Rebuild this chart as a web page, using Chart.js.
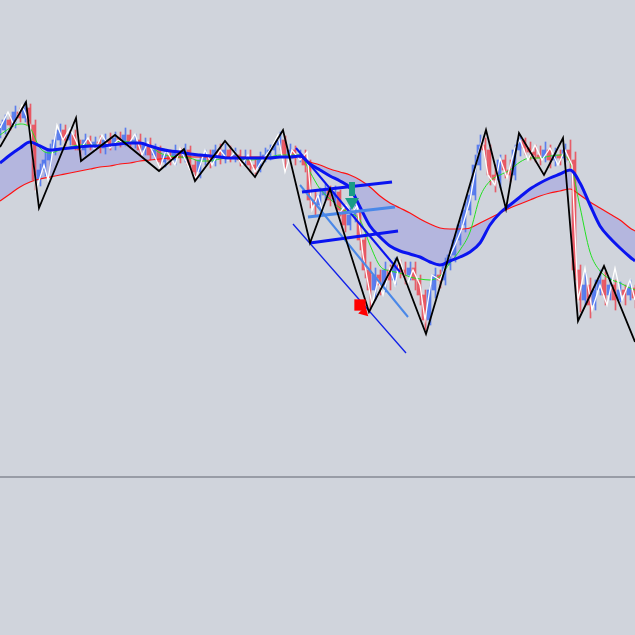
<!DOCTYPE html>
<html>
<head>
<meta charset="utf-8">
<script src="https://cdn.jsdelivr.net/npm/chart.js@4.4.1/dist/chart.umd.min.js"></script>
<style>
  html, body { margin: 0; padding: 0; background: #d0d4dc; }
  #wrap { width: 635px; height: 635px; }
</style>
</head>
<body>
<div id="wrap"><canvas id="chart" width="635" height="635"></canvas></div>
<script>
// price levels are in chart units (axis runs top = 0 .. bottom = 635)
const maX = Array.from({ length: 64 }, (_, i) => i * 10).concat(635);

const blueMA = [
  163, 155, 148, 142, 146, 150, 149, 148, 147, 146,
  146, 145, 144, 143, 143, 146, 149, 151, 152, 154,
  155, 156, 157, 158, 158, 158, 158, 158, 157, 157,
  156, 164, 170, 176, 181, 188, 207, 226, 237, 246,
  251, 254, 257, 262, 265, 261, 257, 252, 243, 225,
  213, 205, 197, 189, 183, 178, 174, 170, 183, 205,
  226, 238, 248, 257,
  261
];

const redMA = [
  201, 194, 187, 182, 179, 177, 175, 173, 171, 169,
  167, 166, 164, 163, 161, 160, 159, 158, 157, 157,
  157, 157, 157, 157, 157, 157, 157, 157, 157, 157,
  158, 162, 165, 169, 172, 175, 180, 187, 196, 203,
  208, 213, 219, 224, 228, 229, 229, 228, 223, 218,
  213, 208, 204, 200, 196, 193, 191, 189, 195, 202,
  208, 214, 220, 228,
  231
];

const greenMA = [
  135, 128, 124, 128, 148, 153, 150, 147, 145, 145,
  145, 145, 141, 142, 143, 146, 153, 156, 157, 158,
  161, 161, 159, 158, 159, 160, 159, 157, 155, 155,
  155, 172, 189, 199, 208, 213, 220, 245, 266, 271,
  273, 277, 279, 280, 276, 263, 250, 232, 197, 181,
  175, 170, 162, 158, 158, 156, 155, 162, 207, 252,
  271, 279, 283, 288,
  290
];

// candles, one every 5 units of x
const closeX = Array.from({ length: 128 }, (_, i) => i * 5);
const closes = [
  130, 120, 125, 112, 118, 108, 125, 180, 170, 160,
  150, 140, 130, 140, 135, 145, 150, 140, 145, 142,
  148, 140, 145, 138, 142, 135, 142, 140, 150, 143,
  155, 150, 162, 155, 160, 152, 158, 150, 165, 172,
  160, 155, 162, 150, 158, 150, 157, 155, 160, 158,
  165, 168, 158, 155, 150, 145, 140, 155, 150, 158,
  155, 165, 200, 205, 195, 190, 200, 192, 210, 225,
  215, 212, 240, 270, 290, 275, 285, 270, 280, 265,
  270, 275, 268, 280, 295, 320, 290, 275, 280, 265,
  255, 240, 225, 210, 195, 165, 145, 150, 175, 180,
  160, 170, 175, 150, 140, 148, 152, 155, 158, 150,
  160, 155, 158, 150, 160, 270, 300, 285, 305, 290,
  280, 295, 285, 300, 290, 295, 288, 298
];
const highs = [
  124, 115, 116, 106, 108, 102, 104, 120, 164, 152,
  144, 134, 124, 125, 128, 130, 140, 134, 136, 137,
  136, 134, 133, 132, 132, 128, 130, 134, 134, 138,
  138, 144, 146, 150, 150, 145, 148, 144, 146, 160,
  155, 150, 150, 145, 144, 144, 146, 148, 150, 150,
  150, 160, 152, 148, 145, 140, 132, 136, 144, 146,
  150, 150, 160, 190, 188, 184, 186, 186, 190, 205,
  208, 205, 208, 235, 262, 268, 270, 262, 265, 258,
  260, 262, 262, 262, 275, 290, 285, 268, 270, 258,
  250, 235, 220, 202, 185, 155, 135, 138, 145, 165,
  155, 155, 160, 145, 136, 138, 142, 145, 146, 142,
  145, 148, 150, 144, 140, 152, 265, 272, 278, 280,
  270, 272, 278, 280, 282, 285, 280, 285
];
const lows = [
  138, 134, 130, 128, 122, 122, 130, 190, 186, 176,
  166, 155, 145, 146, 145, 150, 156, 155, 150, 150,
  153, 154, 150, 150, 147, 146, 148, 148, 156, 155,
  160, 160, 168, 167, 165, 165, 163, 162, 170, 180,
  178, 165, 168, 166, 164, 163, 162, 162, 166, 165,
  172, 174, 172, 162, 160, 155, 150, 170, 160, 165,
  162, 172, 208, 215, 210, 200, 206, 205, 216, 232,
  230, 222, 250, 278, 310, 300, 295, 292, 290, 285,
  278, 284, 280, 290, 305, 330, 325, 298, 288, 285,
  270, 262, 245, 232, 215, 200, 170, 160, 185, 192,
  188, 178, 182, 180, 156, 155, 160, 162, 165, 162,
  168, 166, 165, 162, 168, 280, 312, 305, 318, 310,
  295, 305, 300, 310, 302, 305, 300, 308
];

// big zigzag (black)
const zigX = [0, 26, 39, 76, 81, 115, 159, 184, 195, 225, 255, 283, 310, 330, 369, 397, 426, 486, 506, 519, 544, 563, 578, 604, 635];
const zigY = [147, 102, 208, 118, 161, 135, 171, 149, 181, 141, 177, 130, 243, 189, 312, 258, 334, 130, 209, 133, 175, 138, 321, 266, 342];

// small zigzag (white)
const wzX = [0, 8, 14, 22, 30, 36, 44, 48, 57, 63, 70, 80, 88, 95, 102, 110, 118, 128, 135, 142, 148, 160, 166, 175, 180, 190, 196, 205, 212, 220, 228, 235, 242, 248, 255, 262, 270, 278, 285, 292, 300, 307,
  312, 318, 322, 330, 338, 346, 352, 357, 363, 372, 378, 383, 390, 395, 400, 407, 413, 420, 425, 432, 440, 447, 455, 462, 470, 478, 482, 488, 495, 500, 507, 515, 520, 528, 535, 542, 550, 558, 565, 572,
  578, 585, 592, 600, 607, 615, 622, 630, 635];
const wzY = [128, 112, 125, 105, 125, 190, 165, 180, 125, 140, 128, 150, 138, 150, 135, 148, 140, 145, 134, 155, 142, 168, 150, 165, 148, 170, 178, 150, 165, 150, 160, 152, 165, 155, 172, 160, 150, 135, 172, 150, 160, 152,
  210, 195, 210, 190, 215, 205, 215, 205, 255, 305, 280, 295, 268, 285, 260, 285, 270, 285, 320, 275, 280, 262, 245, 228, 200, 155, 140, 175, 185, 158, 178, 148, 140, 160, 145, 160, 148, 165, 150, 165,
  300, 268, 310, 285, 305, 268, 300, 280, 300];

// trend lines: [x1, y1, x2, y2]
const channelTop = [302, 192, 392, 182];
const channelMid = [308, 217, 395, 207];
const channelLow = [310, 243, 398, 231];
const diagLight = [300, 185, 408, 317];
const diagLow = [293, 224, 406, 353];
const diagHigh = [296, 148, 400, 272];

const downArrow = [352, 182, 352, 196, 352, 202];
const buyArrow = [360, 305, 364, 312];
const baseLevel = 477;

const toPts = (xs, ys) => xs.map((x, i) => ({ x: x, y: ys[i] }));
const seg = s => [{ x: s[0], y: s[1] }, { x: s[2], y: s[3] }];

const opens = closes.map((c, i) => i === 0 ? closes[0] + 4 : closes[i - 1]);
const bodies = closeX.map((x, i) => ({ x: x, y: [opens[i], closes[i]] }));
const wicks = closeX.map((x, i) => ({ x: x, y: [highs[i], lows[i]] }));
const candleColors = closes.map((c, i) => c > opens[i] ? 'rgba(235,72,85,0.85)' : 'rgba(72,112,240,0.85)');

const lineDs = (data, color, width, order, extra) => Object.assign({
  type: 'line',
  data: data,
  borderColor: color,
  borderWidth: width,
  pointRadius: 0,
  tension: 0,
  fill: false,
  order: order
}, extra || {});

const datasets = [
  lineDs([{ x: 0, y: baseLevel }, { x: 635, y: baseLevel }], '#868a94', 1.5, 1),
  lineDs(toPts(maX, redMA), '#ff1010', 1.2, 9, { cubicInterpolationMode: 'monotone' }),
  lineDs(toPts(maX, blueMA), '#0a14f0', 3, 6, {
    cubicInterpolationMode: 'monotone',
    fill: { target: 1 },
    backgroundColor: 'rgba(140,140,225,0.42)'
  }),
  lineDs(toPts(maX, greenMA), '#22e022', 1, 8, { cubicInterpolationMode: 'monotone' }),
  {
    type: 'bar',
    data: bodies,
    backgroundColor: candleColors,
    barThickness: 3,
    borderWidth: 0,
    order: 10
  },
  {
    type: 'bar',
    data: wicks,
    backgroundColor: candleColors,
    barThickness: 1,
    borderWidth: 0,
    order: 11
  },
  lineDs(toPts(wzX, wzY), '#ffffff', 1.3, 7),
  lineDs(seg(channelTop), '#0a14f0', 3, 5),
  lineDs(seg(channelMid), '#4a88e8', 3, 5),
  lineDs(seg(channelLow), '#0a14f0', 3, 5),
  lineDs(seg(diagLight), '#4a88e8', 2, 5),
  lineDs(seg(diagLow), '#1020e8', 1.3, 5),
  lineDs(seg(diagHigh), '#0a14f0', 2, 5),
  lineDs(toPts(zigX, zigY), '#000000', 1.8, 4),
  lineDs([{ x: downArrow[0], y: downArrow[1] }, { x: downArrow[2], y: downArrow[3] }], '#1a9c86', 6, 2, { borderCapStyle: 'butt' }),
  lineDs([{ x: downArrow[4], y: downArrow[5] }], '#1a9c86', 0, 2, {
    showLine: false, pointRadius: 8, pointStyle: 'triangle', rotation: 180,
    pointBackgroundColor: '#1a9c86', pointBorderWidth: 0
  }),
  lineDs([{ x: buyArrow[0], y: buyArrow[1] }], '#ff0000', 0, 2, {
    showLine: false, pointRadius: 8, pointStyle: 'rect',
    pointBackgroundColor: '#ff0000', pointBorderWidth: 0
  }),
  lineDs([{ x: buyArrow[2], y: buyArrow[3] }], '#ff0000', 0, 2, {
    showLine: false, pointRadius: 6, pointStyle: 'triangle', rotation: 135,
    pointBackgroundColor: '#ff0000', pointBorderWidth: 0
  })
];

new Chart(document.getElementById('chart'), {
  type: 'line',
  data: { datasets: datasets },
  options: {
    responsive: false,
    animation: false,
    events: [],
    layout: { padding: 0, autoPadding: false },
    plugins: {
      legend: { display: false },
      tooltip: { enabled: false },
      filler: { drawTime: 'beforeDatasetsDraw' }
    },
    scales: {
      x: { type: 'linear', min: 0, max: 635, offset: false, display: false },
      y: { type: 'linear', min: 0, max: 635, reverse: true, display: false }
    }
  }
});
</script>
</body>
</html>
